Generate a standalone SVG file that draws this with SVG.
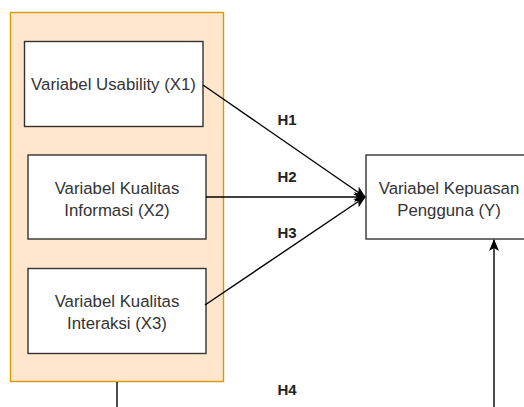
<svg xmlns="http://www.w3.org/2000/svg" width="524" height="407" viewBox="0 0 524 407">
<defs>
<marker id="arr" markerUnits="userSpaceOnUse" markerWidth="12" markerHeight="10" viewBox="0 0 12 10" refX="11" refY="5" orient="auto">
<path d="M0,0 L12,5 L0,10 L3,5 z" fill="#000"/>
</marker>
</defs>
<style>
.box{fill:#fff;stroke:#333;stroke-width:1.4}
.t{font-family:"Liberation Sans",Arial,sans-serif;font-size:16.8px;fill:#333;text-anchor:middle}
.h{font-family:"Liberation Sans",Arial,sans-serif;font-size:15px;font-weight:bold;fill:#222;text-anchor:middle}
.e{fill:none;stroke:#000;stroke-width:1.4}
</style>
<rect width="524" height="407" fill="#fff"/>
<g id="container">
<rect x="10.5" y="12.5" width="213" height="369" fill="#ffe6cc" stroke="#d79b00" stroke-width="1.4"/>
</g>
<g id="x1">
<rect class="box" x="24.5" y="41.5" width="178.5" height="85"/>
<text class="t" x="113.5" y="89.5">Variabel Usability (X1)</text>
</g>
<g id="x2">
<rect class="box" x="28" y="155" width="178" height="84"/>
<text class="t" x="117" y="193.5">Variabel Kualitas</text>
<text class="t" x="117" y="215.5">Informasi (X2)</text>
</g>
<g id="x3">
<rect class="box" x="28" y="268.5" width="178" height="85"/>
<text class="t" x="117" y="306.5">Variabel Kualitas</text>
<text class="t" x="117" y="328.5">Interaksi (X3)</text>
</g>
<g id="y">
<rect class="box" x="366" y="155" width="166" height="84"/>
<text class="t" x="449" y="193.5">Variabel Kepuasan</text>
<text class="t" x="449" y="215.5">Pengguna (Y)</text>
</g>
<g id="connectors">
<path class="e" d="M203,85 L365,197" marker-end="url(#arr)"/>
<path class="e" d="M206,197 L365,197" marker-end="url(#arr)"/>
<path class="e" d="M205,305 L365,197" marker-end="url(#arr)"/>
<path class="e" d="M117,382 L117,407"/>
<path class="e" d="M494,407 L494,240" marker-end="url(#arr)"/>
<text class="h" x="287" y="125">H1</text>
<text class="h" x="287" y="181.5">H2</text>
<text class="h" x="287" y="238">H3</text>
<text class="h" x="287" y="395">H4</text>
</g>
</svg>
